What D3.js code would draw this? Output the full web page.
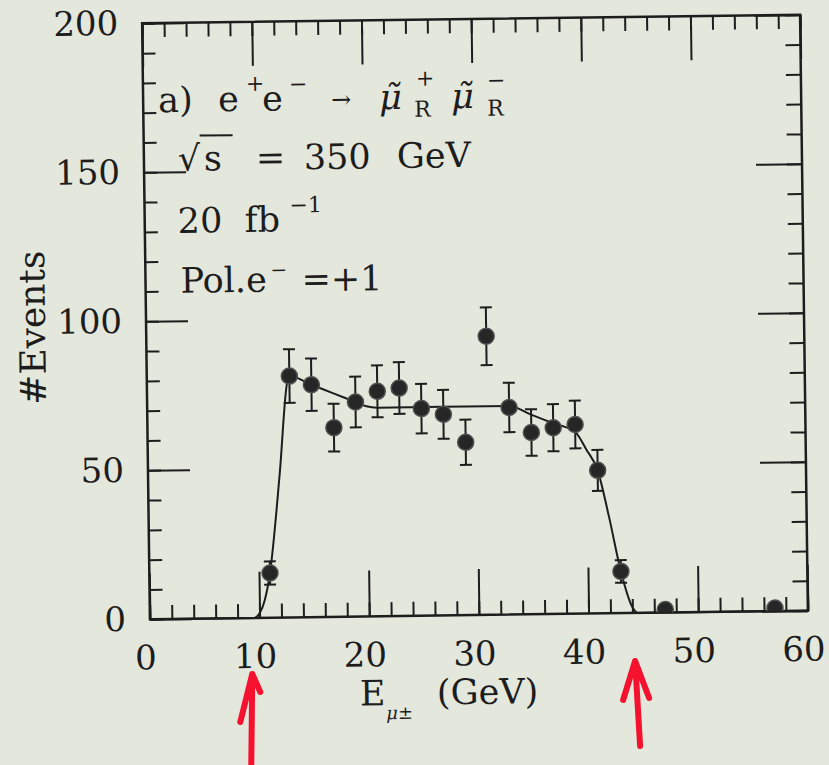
<!DOCTYPE html>
<html>
<head>
<meta charset="utf-8">
<script src="https://cdn.jsdelivr.net/npm/d3@7"></script>
<style>
  html, body { margin: 0; padding: 0; background: #e4e7dc; }
  svg { display: block; }
  text { font-family: "DejaVu Serif", "Liberation Serif", serif; fill: #1d1d1d; }
</style>
</head>
<body>
<svg id="chart" width="829" height="765"></svg>
<script>
// ---- data ----
const energyBins = [11, 13, 15, 17, 19, 21, 23, 25, 27, 29, 31, 33, 35, 37, 39, 41, 43, 47, 57];
const events     = [15, 81, 78, 63.5, 72, 75.5, 76.5, 69.5, 67.5, 58, 93.5, 69.5, 61, 62.5, 63.5, 48, 14, 1, 1];
const eventErrs  = [3.9, 9, 8.8, 8, 8.5, 8.7, 8.7, 8.3, 8.2, 7.6, 9.7, 8.3, 7.8, 7.9, 8, 6.9, 3.8, 1, 1];

const fitX = [0, 9.5, 10, 10.5, 11, 12, 12.8, 13, 15, 17, 19, 20, 21, 33, 35, 37, 39, 40, 41, 42, 43, 44, 44.5, 60];
const fitY = [0, 0, 1.5, 6, 15, 48, 79, 81, 78, 75, 72, 70.5, 70, 70, 67, 64, 61, 55, 48, 32, 14, 2, 0, 0];

const xMajorTicks = [0, 10, 20, 30, 40, 50, 60];
const yMajorTicks = [0, 50, 100, 150, 200];
const arrowMarks  = [9.6, 44.6];

// ---- layout ----
const svg = d3.select("#chart");
const X0 = 146, X1 = 804, Y0 = 19, Y1 = 615;
const x = d3.scaleLinear().domain([0, 60]).range([X0, X1]);
const y = d3.scaleLinear().domain([0, 200]).range([Y1, Y0]);
const ink = "#1d1d1d";

svg.append("rect").attr("width", 829).attr("height", 765).attr("fill", "#e4e7dc");

// whole scanned figure is slightly rotated
const g = svg.append("g").attr("transform", "rotate(-0.75, 475, 317)");

g.append("defs").append("clipPath").attr("id", "plotclip")
  .append("rect").attr("x", X0).attr("y", Y0).attr("width", X1 - X0).attr("height", Y1 - Y0);

const xMinor = d3.range(0, 60.001, 2);
const yMinor = d3.range(0, 200.001, 10);

function styleAxis(sel) {
  sel.select(".domain").remove();
  sel.selectAll("line").attr("stroke", ink).attr("stroke-width", 2);
  sel.selectAll("text").style("font-size", "34px").attr("fill", ink);
}

// minor ticks
g.append("g").attr("transform", `translate(0,${Y1})`)
  .call(d3.axisBottom(x).tickValues(xMinor).tickSize(-14).tickFormat("")).call(styleAxis);
g.append("g").attr("transform", `translate(0,${Y0})`)
  .call(d3.axisTop(x).tickValues(xMinor).tickSize(-14).tickFormat("")).call(styleAxis);
g.append("g").attr("transform", `translate(${X0},0)`)
  .call(d3.axisLeft(y).tickValues(yMinor).tickSize(-13).tickFormat("")).call(styleAxis);
g.append("g").attr("transform", `translate(${X1},0)`)
  .call(d3.axisRight(y).tickValues(yMinor).tickSize(-15).tickFormat("")).call(styleAxis);

// major ticks + labels
g.append("g").attr("transform", `translate(0,${Y1})`)
  .call(d3.axisBottom(x).tickValues(xMajorTicks).tickSize(-46).tickPadding(26).tickFormat(d3.format("d")))
  .call(styleAxis)
  .selectAll("text").attr("dx", -5);
g.append("g").attr("transform", `translate(0,${Y0})`)
  .call(d3.axisTop(x).tickValues(xMajorTicks).tickSize(-44).tickFormat("")).call(styleAxis);
g.append("g").attr("transform", `translate(${X0},0)`)
  .call(d3.axisLeft(y).tickValues(yMajorTicks).tickSize(-42).tickPadding(24).tickFormat(d3.format("d")))
  .call(styleAxis);
g.append("g").attr("transform", `translate(${X1},0)`)
  .call(d3.axisRight(y).tickValues(yMajorTicks).tickSize(-46).tickFormat("")).call(styleAxis);

// frame
g.append("rect").attr("x", X0).attr("y", Y0).attr("width", X1 - X0).attr("height", Y1 - Y0)
  .attr("fill", "none").attr("stroke", ink).attr("stroke-width", 2.5);

// fit curve
const fitData = fitX.map((v, i) => [v, fitY[i]]);
g.append("path").datum(fitData)
  .attr("d", d3.line().x(d => x(d[0])).y(d => y(d[1])).curve(d3.curveMonotoneX))
  .attr("fill", "none").attr("stroke", ink).attr("stroke-width", 2);

// data points with error bars
const pts = energyBins.map((v, i) => ({ e: v, n: events[i], err: eventErrs[i] }));
const pg = g.append("g").attr("clip-path", "url(#plotclip)");
const eb = pg.selectAll("g.pt").data(pts).join("g").attr("class", "pt");
eb.append("line")
  .attr("x1", d => x(d.e)).attr("x2", d => x(d.e))
  .attr("y1", d => y(d.n - d.err)).attr("y2", d => y(d.n + d.err))
  .attr("stroke", ink).attr("stroke-width", 2);
eb.append("line")
  .attr("x1", d => x(d.e) - 6).attr("x2", d => x(d.e) + 6)
  .attr("y1", d => y(d.n + d.err)).attr("y2", d => y(d.n + d.err))
  .attr("stroke", ink).attr("stroke-width", 2);
eb.append("line")
  .attr("x1", d => x(d.e) - 6).attr("x2", d => x(d.e) + 6)
  .attr("y1", d => y(d.n - d.err)).attr("y2", d => y(d.n - d.err))
  .attr("stroke", ink).attr("stroke-width", 2);
eb.append("circle")
  .attr("cx", d => x(d.e)).attr("cy", d => y(d.n)).attr("r", 8)
  .attr("fill", "#262626").attr("stroke", "#4f4f4f").attr("stroke-width", 1.5);

// axis titles
const xt = g.append("text").attr("x", 355).attr("y", 704).style("font-size", "35px");
xt.append("tspan").text("E");
xt.append("tspan").attr("x", 381).attr("y", 718).style("font-size", "18px").style("font-style", "italic").text("μ");
xt.append("tspan").style("font-size", "18px").text("±");
xt.append("tspan").attr("x", 432).attr("y", 704).text("(GeV)");

g.append("text").attr("transform", "translate(45,322) rotate(-90)")
  .attr("text-anchor", "middle").style("font-size", "36px").text("#Events");

// annotation block: each line is one text with positioned pieces
const ann = g.append("g");
function line(parts) {
  const el = ann.append("text");
  parts.forEach(p => {
    const ts = el.append("tspan").attr("x", p[0]).attr("y", p[1]).style("font-size", p[2] + "px").text(p[3]);
    if (p[4]) ts.style("font-style", "italic");
  });
  return el;
}
line([
  [161, 108, 35, "a)"],
  [221, 108, 35, "e"],
  [249, 88, 22, "+"],
  [265, 108, 35, "e"],
  [292, 89, 22, "−"],
  [334, 106, 24, "→"],
  [382, 108, 35, "μ\u0303", true],
  [419, 85, 22, "+"],
  [454, 108, 35, "μ\u0303", true],
  [490, 88, 22, "−"]
]);
line([
  [417, 116, 22, "R"],
  [490, 116, 22, "R"]
]);
line([
  [180, 167, 35, "√"],
  [206, 167, 35, "s"],
  [258, 167, 35, "="],
  [306, 167, 35, "350"],
  [399, 167, 35, "GeV"]
]);
ann.append("line").attr("x1", 202).attr("x2", 235).attr("y1", 132).attr("y2", 132)
  .attr("stroke", ink).attr("stroke-width", 2);
line([
  [179, 229, 35, "20"],
  [246, 229, 35, "fb"],
  [291, 210, 22, "−1"]
]);
line([
  [181, 289, 35, "Pol.e"],
  [271, 274, 20, "−"],
  [302, 289, 35, "=+1"]
]);

// hand-drawn red arrows
const red = "#f5122f";
const a1 = x(arrowMarks[0]), a2 = x(arrowMarks[1]);
svg.append("path")
  .attr("d", `M${a1},765 L${a1 + 1},674 M${a1 + 1},674 L${a1 - 11},722 M${a1 + 1},674 L${a1 + 9},692`)
  .attr("fill", "none").attr("stroke", red).attr("stroke-width", 6)
  .attr("stroke-linecap", "round").attr("stroke-linejoin", "round");
svg.append("path")
  .attr("d", `M${a2 + 5},746 L${a2},661 M${a2},661 L${a2 - 12},700 M${a2},661 L${a2 + 14},698`)
  .attr("fill", "none").attr("stroke", red).attr("stroke-width", 6)
  .attr("stroke-linecap", "round").attr("stroke-linejoin", "round");
</script>
</body>
</html>
